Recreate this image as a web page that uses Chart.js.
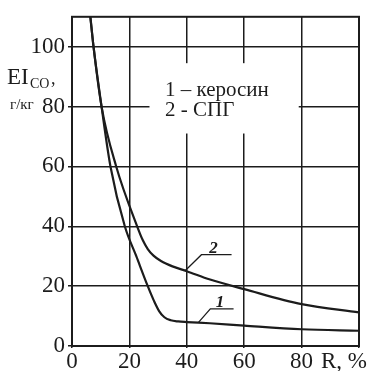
<!DOCTYPE html>
<html>
<head>
<meta charset="utf-8">
<script src="https://cdn.jsdelivr.net/npm/chart.js@4/dist/chart.umd.min.js"></script>
<style>
  html, body { margin: 0; padding: 0; background: #fff; }
  #wrap { width: 385px; height: 371px; }
</style>
</head>
<body>
<div id="wrap"><canvas id="eiChart"></canvas></div>
<script>
// кривая 1 - керосин
const kerosinR  = [6.4, 7.5, 10.3, 13.4, 18.4, 22.4, 26.4, 28.6, 30.4, 32.2, 34.4, 37, 40, 48, 60, 80, 100];
const kerosinEI = [110, 100, 80, 60, 40, 30, 20, 15, 11.6, 9.6, 8.6, 8.2, 8.0, 7.6, 6.8, 5.6, 5.1];

// кривая 2 - СПГ
const spgR  = [6.4, 7.5, 10.3, 15.4, 22.7, 24.6, 26.4, 28.4, 31, 35, 40, 48.1, 60, 80, 100];
const spgEI = [110, 100, 80, 60, 40, 35.5, 32.4, 30.2, 28.4, 26.6, 25, 22.2, 19, 14, 11.2];

const xTicks = [0, 20, 40, 60, 80];
const yTicks = [0, 20, 40, 60, 80, 100];

const legendLines = ['1 – керосин', '2 - СПГ'];
const curveLabels = ['1', '2'];

const serif = "'Liberation Serif', 'Times New Roman', serif";
const ink = '#1c1c1c';

let toPoints = (xs, ys) => xs.map((x, i) => ({ x: x, y: ys[i] }));

const decor = {
  id: 'decor',
  beforeDatasetsDraw(chart) {
    const { ctx, scales: { x, y } } = chart;
    // белый фон под подписью
    ctx.save();
    ctx.fillStyle = '#fff';
    ctx.fillRect(x.getPixelForValue(27), y.getPixelForValue(94.5),
      x.getPixelForValue(79) - x.getPixelForValue(27), y.getPixelForValue(71) - y.getPixelForValue(94.5));
    ctx.restore();
  },
  afterDraw(chart) {
    const { ctx, chartArea: a, scales: { x, y } } = chart;
    ctx.save();
    // рамка
    ctx.strokeStyle = ink;
    ctx.lineWidth = 2;
    ctx.strokeRect(a.left, a.top, a.right - a.left, a.bottom - a.top);

    // подпись кривых
    ctx.fillStyle = ink;
    ctx.font = '21px ' + serif;
    ctx.textBaseline = 'alphabetic';
    ctx.fillText(legendLines[0], x.getPixelForValue(32.4), y.getPixelForValue(83.6));
    ctx.fillText(legendLines[1], x.getPixelForValue(32.4), y.getPixelForValue(77));

    // выноски 1 и 2
    ctx.lineWidth = 1.3;
    const leader = (p0, p1, p2) => {
      ctx.beginPath();
      ctx.moveTo(x.getPixelForValue(p0[0]), y.getPixelForValue(p0[1]));
      ctx.lineTo(x.getPixelForValue(p1[0]), y.getPixelForValue(p1[1]));
      ctx.lineTo(x.getPixelForValue(p2[0]), y.getPixelForValue(p2[1]));
      ctx.stroke();
    };
    leader([39.5, 25.2], [45.1, 30.5], [55.6, 30.5]);
    leader([44, 7.8], [48.2, 12.4], [56.3, 12.4]);
    ctx.font = 'italic bold 17px ' + serif;
    ctx.textAlign = 'center';
    ctx.fillText(curveLabels[1], x.getPixelForValue(49.3), y.getPixelForValue(31.2));
    ctx.fillText(curveLabels[0], x.getPixelForValue(51.6), y.getPixelForValue(13.1));

    // подпись оси X
    ctx.textAlign = 'left';
    ctx.font = '23px ' + serif;
    ctx.fillText('R, %', 321, 368);

    // подпись оси Y
    ctx.font = '23px ' + serif;
    ctx.fillText('EI', 7, 84);
    ctx.font = '14px ' + serif;
    ctx.fillText('CO', 30, 88);
    ctx.font = '18px ' + serif;
    ctx.fillText(',', 51, 84);
    ctx.font = '15px ' + serif;
    ctx.fillText('г/кг', 10, 109);
    ctx.restore();
  }
};

const ctx = document.getElementById('eiChart');

const config = {
  type: 'line',
  data: {
    datasets: [{
      label: '1 – керосин',
      data: toPoints(kerosinR, kerosinEI),
      borderColor: ink,
      borderWidth: 2.2,
      pointRadius: 0,
      cubicInterpolationMode: 'monotone'
    }, {
      label: '2 - СПГ',
      data: toPoints(spgR, spgEI),
      borderColor: ink,
      borderWidth: 2.2,
      pointRadius: 0,
      cubicInterpolationMode: 'monotone'
    }]
  },
  options: {
    responsive: true,
    maintainAspectRatio: false,
    animation: false,
    layout: { padding: { top: 13, right: 26, left: 0, bottom: 0 } },
    plugins: { legend: { display: false }, tooltip: { enabled: false } },
    scales: {
      x: {
        type: 'linear',
        min: 0, max: 100,
        afterFit: (s) => { s.height = 25; },
        afterBuildTicks: (s) => { s.ticks = xTicks.concat([100]).map(v => ({ value: v })); },
        ticks: {
          color: ink,
          font: { family: serif, size: 23 },
          padding: 0,
          maxRotation: 0,
          callback: (v) => xTicks.includes(v) ? String(v) : ''
        },
        grid: { color: ink, lineWidth: 1.5, tickLength: 2 },
        border: { color: ink, width: 2 }
      },
      y: {
        min: 0, max: 110,
        afterFit: (s) => { s.width = 72; },
        afterBuildTicks: (s) => { s.ticks = yTicks.map(v => ({ value: v })); },
        ticks: {
          color: ink,
          font: { family: serif, size: 23 },
          padding: 3
        },
        grid: { color: ink, lineWidth: 1.5, tickLength: 4 },
        border: { color: ink, width: 2 }
      }
    }
  },
  plugins: [decor]
};

const chart = new Chart(ctx, config);
</script>
</body>
</html>
